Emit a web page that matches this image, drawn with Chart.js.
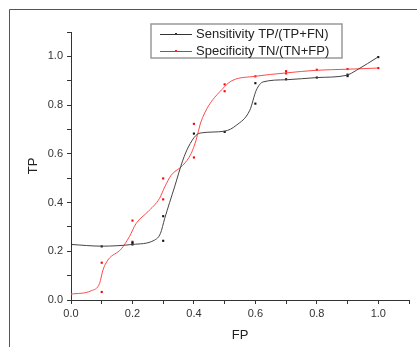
<!DOCTYPE html>
<html lang="en">
<head>
  <meta charset="UTF-8" />
  <title>ROC - Sensitivity / Specificity</title>
  <script src="https://cdn.jsdelivr.net/npm/chart.js"></script>
  <style>
    html, body { margin: 0; padding: 0; background: #fff; }
    #wrap { width: 417px; height: 347px; position: relative; }
  </style>
</head>
<body>
  <div id="wrap"><canvas id="rocChart" width="417" height="347"></canvas></div>

  <script>
    // measured points (FP, TP)
    const sensX = [0.0, 0.1, 0.2, 0.2, 0.3, 0.3, 0.4, 0.5, 0.6, 0.6, 0.7, 0.8, 0.9, 0.9, 1.0];
    const sensY = [0.228, 0.220, 0.228, 0.235, 0.344, 0.243, 0.683, 0.690, 0.890, 0.806, 0.906, 0.913, 0.919, 0.925, 0.997];
    const specX = [0.0, 0.1, 0.1, 0.2, 0.2, 0.3, 0.3, 0.4, 0.4, 0.5, 0.5, 0.6, 0.7, 0.7, 0.8, 0.9, 1.0];
    const specY = [0.023, 0.153, 0.033, 0.326, 0.239, 0.499, 0.413, 0.723, 0.585, 0.885, 0.857, 0.918, 0.939, 0.930, 0.945, 0.948, 0.952];

    // smoothed curves
    const sensCurveX = [0.0, 0.1, 0.2, 0.272, 0.291, 0.305, 0.337, 0.364, 0.382, 0.407, 0.424, 0.5, 0.538, 0.582, 0.603, 0.625, 0.7, 0.8, 0.896, 0.929, 1.0];
    const sensCurveY = [0.228, 0.221, 0.228, 0.246, 0.273, 0.335, 0.464, 0.574, 0.628, 0.676, 0.686, 0.693, 0.717, 0.779, 0.861, 0.895, 0.904, 0.913, 0.922, 0.943, 0.998];
    const specCurveX = [0.0, 0.066, 0.093, 0.104, 0.12, 0.164, 0.19, 0.212, 0.25, 0.288, 0.305, 0.326, 0.364, 0.391, 0.407, 0.424, 0.5, 0.527, 0.598, 0.7, 0.8, 0.896, 1.0];
    const specCurveY = [0.024, 0.038, 0.068, 0.123, 0.164, 0.21, 0.26, 0.314, 0.362, 0.417, 0.464, 0.512, 0.553, 0.601, 0.656, 0.735, 0.876, 0.902, 0.918, 0.932, 0.943, 0.947, 0.952];

    const legendLabels = ["Sensitivity TP/(TP+FN)", "Specificity TN/(TN+FP)"];
    const seriesColors = ["#333333", "#ff2020"];

    const toXY = (xs, ys) => xs.map((x, i) => ({ x: x, y: ys[i] }));

    // frame + legend box drawn on top of the chart
    const frameLegend = {
      id: "frameLegend",
      afterDraw(chart) {
        const ctx = chart.ctx;
        ctx.save();
        ctx.strokeStyle = "#555";
        ctx.lineWidth = 1;
        ctx.beginPath();
        ctx.moveTo(9.5, 347);
        ctx.lineTo(9.5, 9.5);
        ctx.lineTo(417, 9.5);
        ctx.stroke();

        // legend
        ctx.strokeStyle = "#999";
        ctx.lineWidth = 1.5;
        ctx.strokeRect(151, 24, 191, 34);
        ctx.font = "13px Arial, 'Liberation Sans', sans-serif";
        ctx.textBaseline = "middle";
        legendLabels.forEach((t, i) => {
          const y = 34 + i * 17;
          ctx.strokeStyle = seriesColors[i];
          ctx.lineWidth = 1;
          ctx.beginPath();
          ctx.moveTo(160, y + 0.5);
          ctx.lineTo(192, y + 0.5);
          ctx.stroke();
          ctx.fillStyle = seriesColors[i];
          ctx.fillRect(175, y - 1, 2, 2);
          ctx.fillStyle = "#222";
          ctx.fillText(t, 196, y);
        });
        ctx.restore();
      }
    };

    const tickLabel = v => {
      const k = Math.round(v * 10);
      return k % 2 === 0 && k <= 10 ? (k / 10).toFixed(1) : "";
    };

    const axisFont = { family: "Arial, 'Liberation Sans', sans-serif", size: 11 };

    new Chart(document.getElementById("rocChart"), {
      type: "scatter",
      data: {
        datasets: [
          {
            label: legendLabels[0] + " curve",
            data: toXY(sensCurveX, sensCurveY),
            showLine: true,
            borderColor: "#444",
            borderWidth: 1,
            pointRadius: 0,
            cubicInterpolationMode: "monotone"
          },
          {
            label: legendLabels[1] + " curve",
            data: toXY(specCurveX, specCurveY),
            showLine: true,
            borderColor: "#ff4a4a",
            borderWidth: 1,
            pointRadius: 0,
            cubicInterpolationMode: "monotone"
          },
          {
            label: legendLabels[0],
            data: toXY(sensX, sensY),
            pointStyle: "rect",
            pointRadius: 1.5,
            backgroundColor: "#111",
            borderColor: "#111",
            borderWidth: 0
          },
          {
            label: legendLabels[1],
            data: toXY(specX, specY),
            pointStyle: "rect",
            pointRadius: 1.5,
            backgroundColor: "#ff0000",
            borderColor: "#ff0000",
            borderWidth: 0
          }
        ]
      },
      options: {
        responsive: false,
        animation: false,
        layout: { padding: { top: 32, right: 8, left: 0, bottom: 0 } },
        plugins: {
          legend: { display: false },
          tooltip: { enabled: false }
        },
        scales: {
          x: {
            type: "linear",
            min: 0,
            max: 1.1,
            afterFit: s => { s.height = 47; },
            grid: { drawOnChartArea: false, drawTicks: true, tickLength: 4, color: "#333" },
            border: { color: "#333", width: 1 },
            ticks: { stepSize: 0.1, autoSkip: false, maxRotation: 0, padding: 3, color: "#333", font: axisFont, callback: tickLabel },
            title: { display: true, text: "FP", color: "#222", font: { family: axisFont.family, size: 13 }, padding: { top: 0, bottom: 4 } }
          },
          y: {
            type: "linear",
            min: 0,
            max: 1.1,
            afterFit: s => { s.width = 71; },
            grid: { drawOnChartArea: false, drawTicks: true, tickLength: 4, color: "#333" },
            border: { color: "#333", width: 1 },
            ticks: { stepSize: 0.1, autoSkip: false, padding: 4, color: "#333", font: axisFont, callback: tickLabel },
            title: { display: true, text: "TP", color: "#222", font: { family: axisFont.family, size: 13 }, padding: { top: 26, bottom: 0 } }
          }
        }
      },
      plugins: [frameLegend]
    });
  </script>
</body>
</html>
